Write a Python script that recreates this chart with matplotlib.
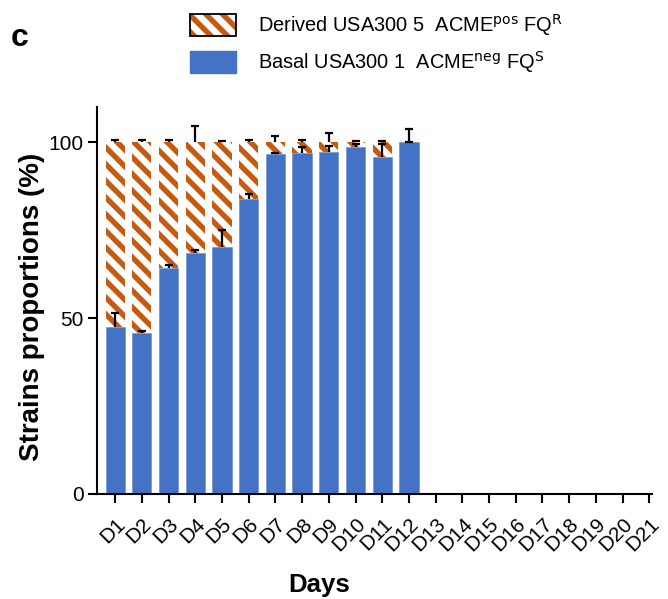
import matplotlib
matplotlib.use("Agg")
import matplotlib.pyplot as plt
from matplotlib.patches import Patch
from matplotlib.legend_handler import HandlerTuple

plt.rcParams['font.family'] = ['Liberation Sans', 'DejaVu Sans']
plt.rcParams['hatch.linewidth'] = 4.6

days = [f"D{i}" for i in range(1, 22)]
basal = [47.6, 45.7, 64.3, 68.5, 70.1, 83.9, 96.5, 97.0, 97.2, 98.6, 95.8, 100.0]
basal_err = [3.8, 0.7, 0.9, 0.8, 4.8, 1.4, 0.3, 1.5, 1.6, 0.8, 3.8, 0.0]
derived = [100 - b for b in basal]
derived_err = [0.6, 0.6, 0.6, 4.7, 0.2, 0.6, 1.7, 0.6, 2.6, 0.3, 0.2, 3.6]

blue = '#4472C4'
orange = '#C55A11'
HATCH = '\\\\'

fig = plt.figure(figsize=(6.68, 5.99), dpi=100)
ax = fig.add_axes([0.1452, 0.1753, 0.8308, 0.6461])

n = len(basal)
x = list(range(n))
w = 0.72
ax.bar(x, basal, width=w, color=blue, edgecolor='#6f93d4', linewidth=0.5, zorder=2)
ax.bar(x, derived, width=w, bottom=basal, color=orange, edgecolor='white',
       linewidth=0, hatch=HATCH, zorder=2)


def up_err(xs, ys, errs):
    _, caps, _ = ax.errorbar(xs, ys, yerr=[[0] * len(xs), errs], fmt='none',
                             ecolor='black', elinewidth=1.6, capsize=3.2,
                             capthick=1.6, zorder=4)
    if len(caps) == 2:
        caps[0].set_visible(False)


up_err(x, basal, basal_err)
tops = [b + d for b, d in zip(basal, derived)]
up_err(x, tops, derived_err)

ax.set_xlim(-0.68, 20.1)
ax.set_ylim(0, 110)
ax.set_xticks(range(len(days)))
ax.set_xticklabels(days, rotation=45, ha='right', rotation_mode='anchor', fontsize=15)
ax.set_yticks([0, 50, 100])
ax.set_yticklabels(['0', '50', '100'], fontsize=15)
for s in ['top', 'right']:
    ax.spines[s].set_visible(False)
for s in ['left', 'bottom']:
    ax.spines[s].set_linewidth(1.5)
ax.tick_params(axis='both', width=1.5, length=6.5, pad=3)
ax.tick_params(axis='x', pad=8)

ax.set_ylabel('Strains proportions (%)', fontsize=20, fontweight='bold')
ax.yaxis.set_label_coords(-0.094, 0.483)
ax.set_xlabel('Days', fontsize=18.5, fontweight='bold')
ax.xaxis.set_label_coords(0.40, -0.205)

fig.text(0.016, 0.937, 'c', fontsize=23, fontweight='bold', va='center')

h_der = (Patch(facecolor=orange, edgecolor='white', linewidth=0, hatch=HATCH),
         Patch(facecolor='none', edgecolor='black', linewidth=1.3))
h_bas = Patch(facecolor=blue, edgecolor=blue)
fig.legend([h_der, h_bas],
           [r'Derived USA300 5  ACME$^{\mathrm{pos}}$ FQ$^{\mathrm{R}}$',
            r'Basal USA300 1  ACME$^{\mathrm{neg}}$ FQ$^{\mathrm{S}}$'],
           handler_map={tuple: HandlerTuple(ndivide=1)},
           loc='upper left', bbox_to_anchor=(0.284, 0.98), frameon=False,
           borderpad=0, borderaxespad=0,
           fontsize=14.4, handlelength=2.3, handleheight=1.27, labelspacing=0.55,
           handletextpad=1.1)

fig.savefig('out.png', dpi=100)
